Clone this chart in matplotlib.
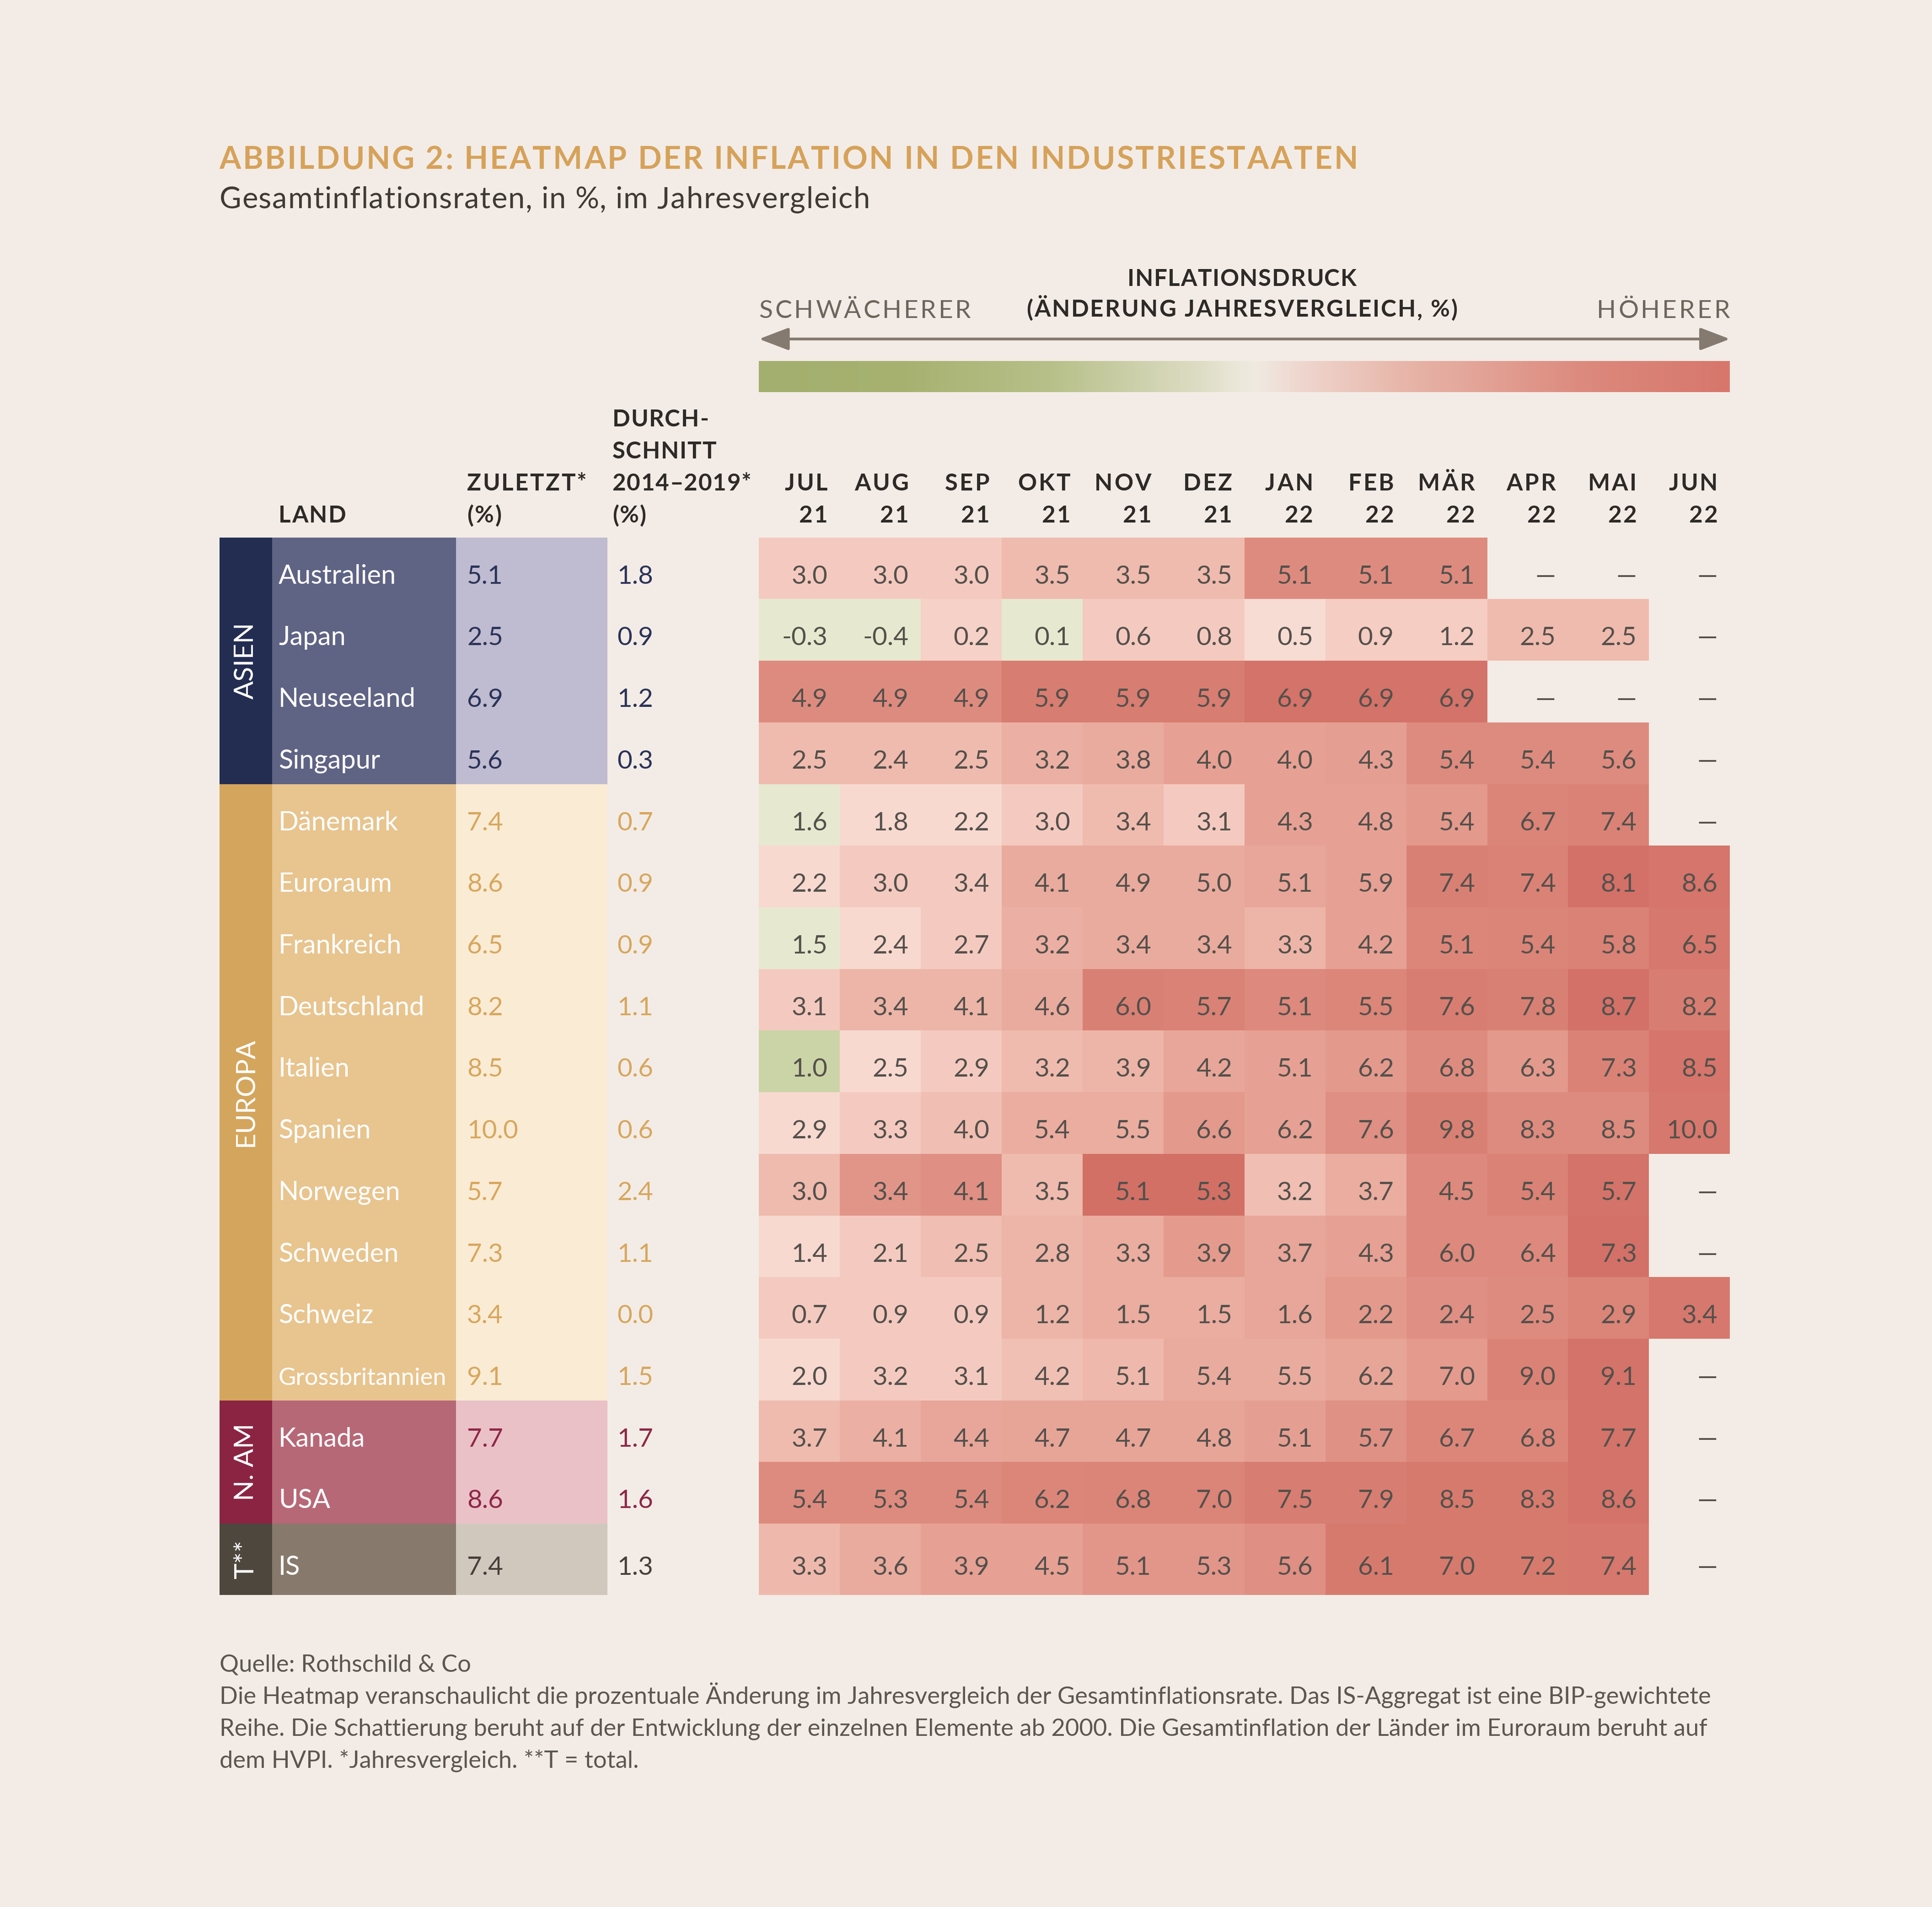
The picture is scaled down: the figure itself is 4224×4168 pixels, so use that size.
import numpy as np
import matplotlib
matplotlib.use('Agg')
import matplotlib.pyplot as plt
from matplotlib.colors import LinearSegmentedColormap, Normalize
from matplotlib.patches import Rectangle

plt.rcParams['font.family'] = ['Lato', 'DejaVu Sans']

# ---- data ----
countries = ['Australien', 'Japan', 'Neuseeland', 'Singapur', 'Dänemark', 'Euroraum',
             'Frankreich', 'Deutschland', 'Italien', 'Spanien', 'Norwegen', 'Schweden',
             'Schweiz', 'Grossbritannien', 'Kanada', 'USA', 'IS']
regions = ['ASIEN', 'EUROPA', 'N. AM', 'T**']
region_rows = [4, 10, 2, 1]
zuletzt = [5.1, 2.5, 6.9, 5.6, 7.4, 8.6, 6.5, 8.2, 8.5, 10.0, 5.7, 7.3, 3.4, 9.1, 7.7, 8.6, 7.4]
avg_14_19 = [1.8, 0.9, 1.2, 0.3, 0.7, 0.9, 0.9, 1.1, 0.6, 0.6, 2.4, 1.1, 0.0, 1.5, 1.7, 1.6, 1.3]
months = ['JUL', 'AUG', 'SEP', 'OKT', 'NOV', 'DEZ', 'JAN', 'FEB', 'MÄR', 'APR', 'MAI', 'JUN']
years = ['21'] * 6 + ['22'] * 6

n = np.nan
values = [
    [3.0, 3.0, 3.0, 3.5, 3.5, 3.5, 5.1, 5.1, 5.1, n, n, n],
    [-0.3, -0.4, 0.2, 0.1, 0.6, 0.8, 0.5, 0.9, 1.2, 2.5, 2.5, n],
    [4.9, 4.9, 4.9, 5.9, 5.9, 5.9, 6.9, 6.9, 6.9, n, n, n],
    [2.5, 2.4, 2.5, 3.2, 3.8, 4.0, 4.0, 4.3, 5.4, 5.4, 5.6, n],
    [1.6, 1.8, 2.2, 3.0, 3.4, 3.1, 4.3, 4.8, 5.4, 6.7, 7.4, n],
    [2.2, 3.0, 3.4, 4.1, 4.9, 5.0, 5.1, 5.9, 7.4, 7.4, 8.1, 8.6],
    [1.5, 2.4, 2.7, 3.2, 3.4, 3.4, 3.3, 4.2, 5.1, 5.4, 5.8, 6.5],
    [3.1, 3.4, 4.1, 4.6, 6.0, 5.7, 5.1, 5.5, 7.6, 7.8, 8.7, 8.2],
    [1.0, 2.5, 2.9, 3.2, 3.9, 4.2, 5.1, 6.2, 6.8, 6.3, 7.3, 8.5],
    [2.9, 3.3, 4.0, 5.4, 5.5, 6.6, 6.2, 7.6, 9.8, 8.3, 8.5, 10.0],
    [3.0, 3.4, 4.1, 3.5, 5.1, 5.3, 3.2, 3.7, 4.5, 5.4, 5.7, n],
    [1.4, 2.1, 2.5, 2.8, 3.3, 3.9, 3.7, 4.3, 6.0, 6.4, 7.3, n],
    [0.7, 0.9, 0.9, 1.2, 1.5, 1.5, 1.6, 2.2, 2.4, 2.5, 2.9, 3.4],
    [2.0, 3.2, 3.1, 4.2, 5.1, 5.4, 5.5, 6.2, 7.0, 9.0, 9.1, n],
    [3.7, 4.1, 4.4, 4.7, 4.7, 4.8, 5.1, 5.7, 6.7, 6.8, 7.7, n],
    [5.4, 5.3, 5.4, 6.2, 6.8, 7.0, 7.5, 7.9, 8.5, 8.3, 8.6, n],
    [3.3, 3.6, 3.9, 4.5, 5.1, 5.3, 5.6, 6.1, 7.0, 7.2, 7.4, n],
]
# shading (inflation pressure, -1 weaker .. 1 higher)
shade = [
    [.28, .28, .28, .40, .40, .40, .72, .72, .72, n, n, n],
    [-.2, -.2, .22, -.2, .28, .28, .12, .25, .25, .40, .40, n],
    [.72, .72, .72, .84, .84, .84, .92, .92, .92, n, n, n],
    [.40, .40, .40, .48, .52, .58, .58, .60, .72, .72, .72, n],
    [-.2, .15, .15, .28, .40, .28, .58, .58, .64, .78, .80, n],
    [.15, .28, .28, .52, .52, .52, .55, .58, .82, .80, .93, .90],
    [-.2, .15, .28, .48, .52, .52, .45, .58, .76, .78, .80, .88],
    [.28, .45, .45, .52, .82, .80, .74, .76, .84, .82, .93, .84],
    [-.45, .15, .28, .40, .45, .55, .58, .64, .72, .64, .80, .90],
    [.15, .28, .38, .50, .50, .64, .58, .70, .82, .72, .72, .88],
    [.40, .66, .70, .40, .95, .95, .38, .50, .74, .80, .92, n],
    [.15, .28, .38, .45, .50, .62, .55, .58, .74, .74, .93, n],
    [.28, .28, .28, .45, .50, .50, .55, .64, .70, .72, .78, .88],
    [.15, .28, .28, .36, .42, .52, .52, .56, .62, .80, .92, n],
    [.40, .48, .55, .56, .56, .56, .60, .68, .76, .76, .92, n],
    [.72, .72, .72, .76, .78, .78, .84, .84, .86, .86, .92, n],
    [.42, .52, .58, .58, .65, .65, .70, .86, .86, .86, .88, n],
]

# ---- styles ----
BG = '#F3ECE6'
GOLD = '#D6A25A'
DARK = '#3F3A36'
HEAD = '#2E2A27'
CELLTXT = '#55504B'
region_dark = ['#232D52', '#D4A55C', '#8B2443', '#4D473D']
region_mid = ['#5F6384', '#E8C48F', '#B76877', '#877A6C']
region_light = ['#BFBBD0', '#FAEBD4', '#EAC1C7', '#D1C8BD']
region_txt = ['#2B3358', '#D7A75E', '#8E2747', '#46403A']

nodes = [(-1.0, '#A2AE6B'), (-0.45, '#CBD4A6'), (-0.2, '#E6E9CF'), (0.0, '#F3EEE4'),
         (0.08, '#F8E0D8'), (0.15, '#F7D9D0'), (0.28, '#F4CAC0'), (0.40, '#EFBCAF'),
         (0.52, '#E9AB9E'), (0.62, '#E49C8F'), (0.72, '#DE8C80'), (0.84, '#D87D71'),
         (1.0, '#D06A62')]
cmap = LinearSegmentedColormap.from_list('infl', [((v + 1) / 2, c) for v, c in nodes])
norm = Normalize(-1, 1)
legend_cmap = LinearSegmentedColormap.from_list('legend', [
    (0.0, '#A3AF6E'), (0.15, '#A7B271'), (0.30, '#B7C089'), (0.45, '#DCDCC3'),
    (0.51, '#F0EBE2'), (0.56, '#EFD6CE'), (0.66, '#E8B7AB'), (0.76, '#E29F93'),
    (0.86, '#DC887C'), (1.0, '#D7776C')])

PT = 0.97  # layout px -> points

fig = plt.figure(figsize=(21.12, 20.84), dpi=200)
fig.patch.set_facecolor(BG)
ax = fig.add_axes([0, 0, 1, 1])
ax.set_xlim(0, 1568)
ax.set_ylim(1547, 0)
ax.axis('off')
renderer = fig.canvas.get_renderer()
SX = 1568 / 4224


def ink_w(s, **kw):
    t = ax.text(0, 0, s, **kw)
    w = t.get_window_extent(renderer).width * SX
    t.remove()
    return w


def spaced(x, y, s, gap=1.0, width=None, align='left', **kw):
    # letter-spaced text, one glyph per Text
    full = ink_w(s, **kw)
    if width is not None:
        gap = (width - full) / (len(s) - 1)
    total = full + gap * (len(s) - 1)
    start = {'left': 0, 'center': -total / 2, 'right': -total}[align]
    for i, ch in enumerate(s):
        if ch == ' ':
            continue
        off = ink_w(s[:i + 1], **kw) - ink_w(ch, **kw)
        ax.text(x + start + off + gap * i, y, ch, ha='left', va='baseline', **kw)


# grid geometry
x0, x1 = 616, 1404
ncol = len(months)
row_h = [50] * (len(countries) - 1) + [58]
y_edges = np.concatenate([[436], 436 + np.cumsum(row_h)])
x_edges = np.linspace(x0, x1, ncol + 1)

# title
spaced(178, 137, 'ABBILDUNG 2: HEATMAP DER INFLATION IN DEN INDUSTRIESTAATEN',
       width=924, color=GOLD, fontsize=24.5, fontweight='bold')
spaced(178, 169, 'Gesamtinflationsraten, in %, im Jahresvergleich', width=528,
       color=DARK, fontsize=23.5)

# legend
hk = dict(fontsize=19 * PT, fontweight='bold', color=HEAD)
spaced(1008, 232, 'INFLATIONSDRUCK', width=186, align='center', **hk)
spaced(1008, 257, '(ÄNDERUNG JAHRESVERGLEICH, %)', width=350, align='center', **hk)
spaced(616, 258, 'SCHWÄCHERER', width=172, color='#6E655D', fontsize=20.5 * PT)
spaced(1404, 258, 'HÖHERER', width=108, align='right', color='#6E655D', fontsize=20.5 * PT)
ax.annotate('', xy=(1404, 275), xytext=(616, 275),
            arrowprops=dict(arrowstyle='<|-|>,head_length=1.0,head_width=0.38',
                            color='#857A70', lw=2.2, shrinkA=0, shrinkB=0,
                            mutation_scale=20))
grad = np.linspace(0, 1, 500)[None, :]
ax.imshow(grad, cmap=legend_cmap, aspect='auto', extent=(616, 1404, 318, 293),
          interpolation='bicubic')

# column headers
spaced(226, 424, 'LAND', gap=1.0, **hk)
spaced(379, 398, 'ZULETZT*', gap=1.2, **hk)
spaced(379, 424, '(%)', gap=1.0, **hk)
for i, s in enumerate(['DURCH-', 'SCHNITT', '2014–2019*', '(%)']):
    spaced(497, 346 + 26 * i, s, gap=0.6, **hk)
for j, (m, yr) in enumerate(zip(months, years)):
    spaced(x_edges[j + 1] - 10, 398, m, gap=1.5, align='right', **hk)
    spaced(x_edges[j + 1] - 10, 424, yr, gap=1.0, align='right', **hk)

# left block
start = 0
for g, (reg, nr) in enumerate(zip(regions, region_rows)):
    top, bot = y_edges[start], y_edges[start + nr]
    ax.add_patch(Rectangle((178, top), 43, bot - top, color=region_dark[g], lw=0))
    ax.add_patch(Rectangle((221, top), 149, bot - top, color=region_mid[g], lw=0))
    ax.add_patch(Rectangle((370, top), 123, bot - top, color=region_light[g], lw=0))
    ax.text(199.5, (top + bot) / 2, reg, rotation=90, ha='center', va='center',
            color='white', fontsize=22 * PT)
    for r in range(start, start + nr):
        base = y_edges[r] + row_h[r] / 2 + 12.5
        name_size = 19.5 if len(countries[r]) > 12 else 21.5
        ax.text(226, base, countries[r], color='white', fontsize=name_size * PT,
                va='baseline')
        ax.text(379, base, f'{zuletzt[r]:.1f}', color=region_txt[g],
                fontsize=21 * PT, va='baseline')
        ax.text(501, base, f'{avg_14_19[r]:.1f}', color=region_txt[g],
                fontsize=21 * PT, va='baseline')
    start += nr

# heatmap
sh = np.ma.masked_invalid(np.array(shade, dtype=float))
ax.pcolormesh(x_edges, y_edges, sh, cmap=cmap, norm=norm, shading='flat',
              edgecolors='none', linewidth=0, antialiased=False)
vals = np.array(values, dtype=float)
for r in range(vals.shape[0]):
    base = y_edges[r] + row_h[r] / 2 + 12.5
    for j in range(ncol):
        v = vals[r, j]
        label = '—' if np.isnan(v) else f'{v:.1f}'
        ax.text(x_edges[j + 1] - 10, base, label, ha='right', va='baseline',
                color=CELLTXT, fontsize=21 * PT)

# footer
foot = ['Quelle: Rothschild & Co',
        'Die Heatmap veranschaulicht die prozentuale Änderung im Jahresvergleich der Gesamtinflationsrate. Das IS-Aggregat ist eine BIP-gewichtete',
        'Reihe. Die Schattierung beruht auf der Entwicklung der einzelnen Elemente ab 2000. Die Gesamtinflation der Länder im Euroraum beruht auf',
        'dem HVPI. *Jahresvergleich. **T = total.']
for i, line in enumerate(foot):
    ax.text(178, 1356 + 26 * i, line, color='#5C5650', fontsize=19.5 * PT, va='baseline')

fig.savefig('out.png', dpi=200, facecolor=BG)
